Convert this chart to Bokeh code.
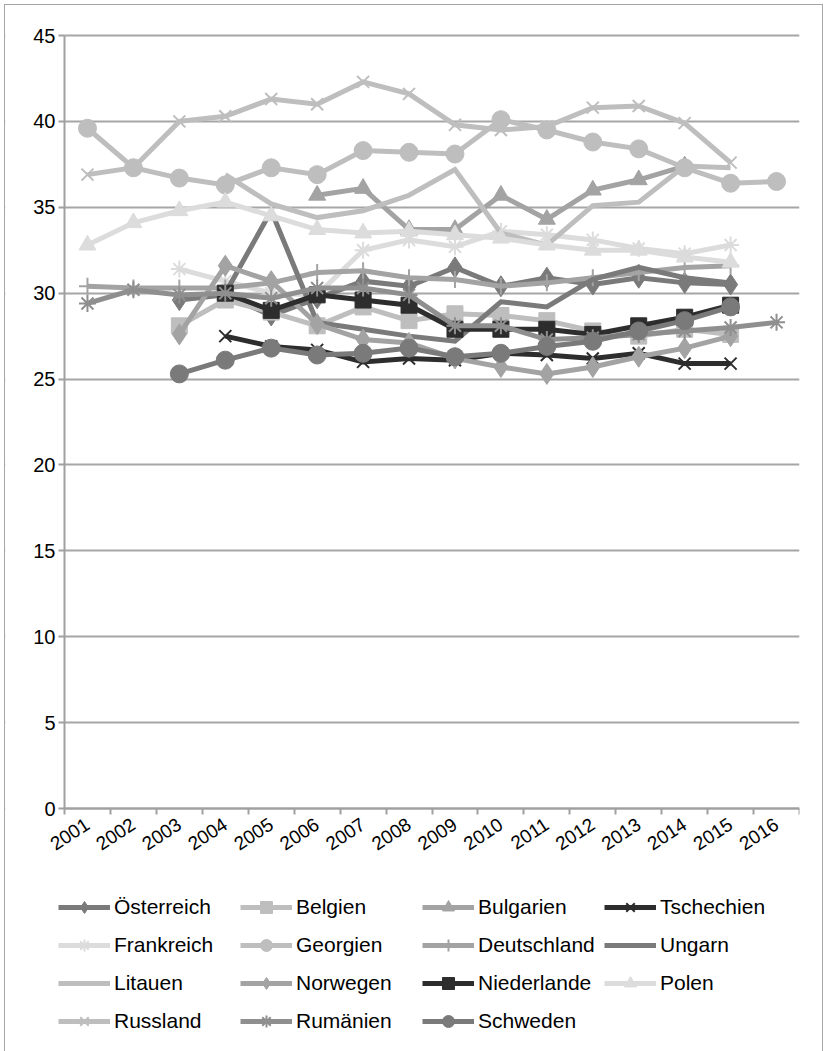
import numpy as np
from bokeh.plotting import figure
from bokeh.models import Range1d, FixedTicker, Legend, LegendItem, BoxAnnotation
from bokeh.embed import file_html
from bokeh.resources import INLINE

N = None
years = [str(y) for y in range(2001, 2017)]

oesterreich = [N, N, 29.6, 29.9, 28.7, 29.7, 30.7, 30.4, 31.5, 30.4, 30.9, 30.5, 30.9, 30.6, 30.5, N]
belgien     = [N, N, 28.1, 29.6, 28.9, 28.1, 29.2, 28.4, 28.8, 28.7, 28.4, 27.8, 27.5, 27.9, 27.6, N]
bulgarien   = [N, N, N, N, N, 35.7, 36.1, 33.7, 33.7, 35.7, 34.3, 36.0, 36.6, 37.4, N, N]
tschechien  = [N, N, N, 27.5, 26.9, 26.7, 26.0, 26.2, 26.1, 26.5, 26.4, 26.2, 26.5, 25.9, 25.9, N]
frankreich  = [N, N, 31.4, 30.7, 30.0, 29.9, 32.5, 33.1, 32.7, 33.6, 33.4, 33.1, 32.6, 32.3, 32.8, N]
georgien    = [39.6, 37.3, 36.7, 36.3, 37.3, 36.9, 38.3, 38.2, 38.1, 40.1, 39.5, 38.8, 38.4, 37.3, 36.4, 36.5]
deutschland = [30.4, 30.3, 30.3, 30.3, 30.6, 31.2, 31.3, 30.9, 30.8, 30.4, 30.6, 30.9, 31.2, 31.5, 31.6, N]
ungarn      = [N, N, N, 30.0, 34.8, 28.3, 27.9, 27.5, 27.2, 29.5, 29.2, 30.8, 31.5, 30.9, 30.6, N]
litauen     = [N, N, N, 36.9, 35.2, 34.4, 34.8, 35.7, 37.2, 33.5, 32.8, 35.1, 35.3, 37.4, 37.3, N]
norwegen    = [N, N, 27.6, 31.6, 30.7, 28.2, 27.3, 27.1, 26.2, 25.7, 25.3, 25.7, 26.3, 26.8, 27.5, N]
niederlande = [N, N, N, 30.0, 29.0, 29.9, 29.6, 29.3, 27.9, 27.9, 27.9, 27.6, 28.1, 28.6, 29.3, N]
polen       = [32.8, 34.1, 34.8, 35.3, 34.5, 33.7, 33.5, 33.6, 33.4, 33.2, 32.8, 32.5, 32.5, 32.1, 31.8, N]
russland    = [36.9, 37.3, 40.0, 40.3, 41.3, 41.0, 42.3, 41.6, 39.8, 39.5, 39.7, 40.8, 40.9, 39.9, 37.6, N]
rumaenien   = [29.4, 30.2, 29.9, 30.0, 29.7, 30.3, 30.3, 29.9, 28.1, 28.1, 27.3, 27.4, 27.6, 27.8, 28.0, 28.3]
schweden    = [N, N, 25.3, 26.1, 26.8, 26.4, 26.5, 26.8, 26.3, 26.5, 26.9, 27.2, 27.8, 28.4, 29.2, N]

y_ticks = [0, 5, 10, 15, 20, 25, 30, 35, 40, 45]

DARK, LIGHT, MED, BLACK, VLIGHT, MED2 = "#7a7a7a", "#bebebe", "#a3a3a3", "#2d2d2d", "#dcdcdc", "#8f8f8f"

series = [
    ("Österreich", oesterreich, DARK, "diamond"),
    ("Belgien", belgien, LIGHT, "square"),
    ("Bulgarien", bulgarien, MED, "triangle"),
    ("Tschechien", tschechien, BLACK, "x"),
    ("Frankreich", frankreich, VLIGHT, "asterisk"),
    ("Georgien", georgien, LIGHT, "circle"),
    ("Deutschland", deutschland, MED, "cross"),
    ("Ungarn", ungarn, DARK, None),
    ("Litauen", litauen, LIGHT, None),
    ("Norwegen", norwegen, MED, "diamond"),
    ("Niederlande", niederlande, BLACK, "square"),
    ("Polen", polen, VLIGHT, "triangle"),
    ("Russland", russland, LIGHT, "x"),
    ("Rumänien", rumaenien, MED2, "asterisk"),
    ("Schweden", schweden, DARK, "circle"),
]

marker_size = {"diamond": 21, "square": 16, "triangle": 17, "x": 17, "asterisk": 17,
               "circle": 18, "cross": 17}

# page layout (pixels): figure content origin at (5,5) due to 4px margin + 1px border
ox, oy = 5, 5
axis_left, axis_right = 64, 799     # page x of category range [0, 16]
top_45, y0_px = 35, 808             # page y of values 45 and 0
page_bottom = 1051
ppx = (axis_right - axis_left) / len(years)   # pixels per category
ppy = (y0_px - top_45) / 45.0                 # pixels per unit
x_low = -(axis_left - ox) / ppx
y_high = 45 + (top_45 - oy) / ppy
y_low = -(page_bottom - y0_px) / ppy
FONT = "Liberation Sans"

p = figure(frame_width=axis_right - ox, frame_height=page_bottom - oy,
           output_backend="svg", toolbar_location=None,
           x_range=Range1d(x_low, len(years)), y_range=Range1d(y_low, y_high),
           min_border_left=0, min_border_top=0, min_border_right=23, min_border_bottom=0,
           styles={"margin-left": "4px", "margin-top": "4px",
                   "border-left": "1px solid #a6a6a6", "border-top": "1px solid #a6a6a6",
                   "border-right": "1px solid #a6a6a6"})
p.outline_line_color = None
p.background_fill_color = "white"
p.border_fill_color = "white"

xs = [i + 0.5 for i in range(len(years))]

legend_items = []
for name, vals, col, mk in series:
    ys = np.array([np.nan if v is None else v for v in vals], dtype=float)
    rs = [p.line(xs, ys, line_color=col, line_width=5, line_join="miter")]
    if mk is not None:
        if mk in ("x", "asterisk", "cross"):
            rs.append(p.scatter(xs, ys, marker=mk, size=marker_size[mk], line_color=col,
                                line_width=2, fill_color=None))
        else:
            rs.append(p.scatter(xs, ys, marker=mk, size=marker_size[mk], line_color=col,
                                fill_color=col, line_width=1))
    legend_items.append(LegendItem(label=name, renderers=rs))

# x axis drawn at value 0; labels at category centres, tick marks at category boundaries
p.xaxis.fixed_location = 0
p.xaxis.bounds = (0, len(years))
p.xaxis.ticker = FixedTicker(ticks=xs, minor_ticks=list(range(len(years) + 1)))
p.xaxis.major_label_overrides = {x: y for x, y in zip(xs, years)}
p.xaxis.major_tick_out = 0
p.xaxis.major_tick_in = 0
p.xaxis.minor_tick_out = 6
p.xaxis.minor_tick_in = 0
p.xaxis.minor_tick_line_color = "#a0a0a0"
p.xaxis.minor_tick_line_width = 2
p.xaxis.axis_line_color = "#a0a0a0"
p.xaxis.axis_line_width = 2
p.xaxis.major_label_orientation = 0.58
p.xaxis.major_label_standoff = 8
p.xaxis.major_label_text_font = FONT
p.xaxis.major_label_text_font_size = "19px"
p.xaxis.major_label_text_color = "#000000"

p.yaxis.fixed_location = 0
p.yaxis.bounds = (0, 45)
p.yaxis.ticker = FixedTicker(ticks=y_ticks)
p.yaxis.major_tick_out = 6
p.yaxis.major_tick_in = 0
p.yaxis.minor_tick_out = 0
p.yaxis.minor_tick_in = 0
p.yaxis.major_tick_line_color = "#a0a0a0"
p.yaxis.major_tick_line_width = 2
p.yaxis.axis_line_color = "#a0a0a0"
p.yaxis.axis_line_width = 2
p.yaxis.major_label_standoff = 3
p.yaxis.major_label_text_font = FONT
p.yaxis.major_label_text_font_size = "20px"
p.yaxis.major_label_text_color = "#000000"

p.xgrid.grid_line_color = None
p.ygrid.ticker = FixedTicker(ticks=y_ticks)
p.ygrid.grid_line_color = "#a6a6a6"
p.ygrid.grid_line_width = 2
# gridlines only across the category area
p.add_layout(BoxAnnotation(right=0, fill_color="white", fill_alpha=1, line_alpha=0,
                           level="underlay"))

legend = Legend(items=legend_items, location=(53, 15), orientation="horizontal", ncols=4,
                glyph_width=52, glyph_height=30, label_width=118, label_height=30,
                label_standoff=4, spacing=8, padding=0, margin=0,
                label_text_font=FONT, label_text_font_size="21px", label_text_color="#000000",
                background_fill_alpha=0, border_line_color=None)
p.add_layout(legend, "center")

open("out.html", "w").write(file_html(p, INLINE))
